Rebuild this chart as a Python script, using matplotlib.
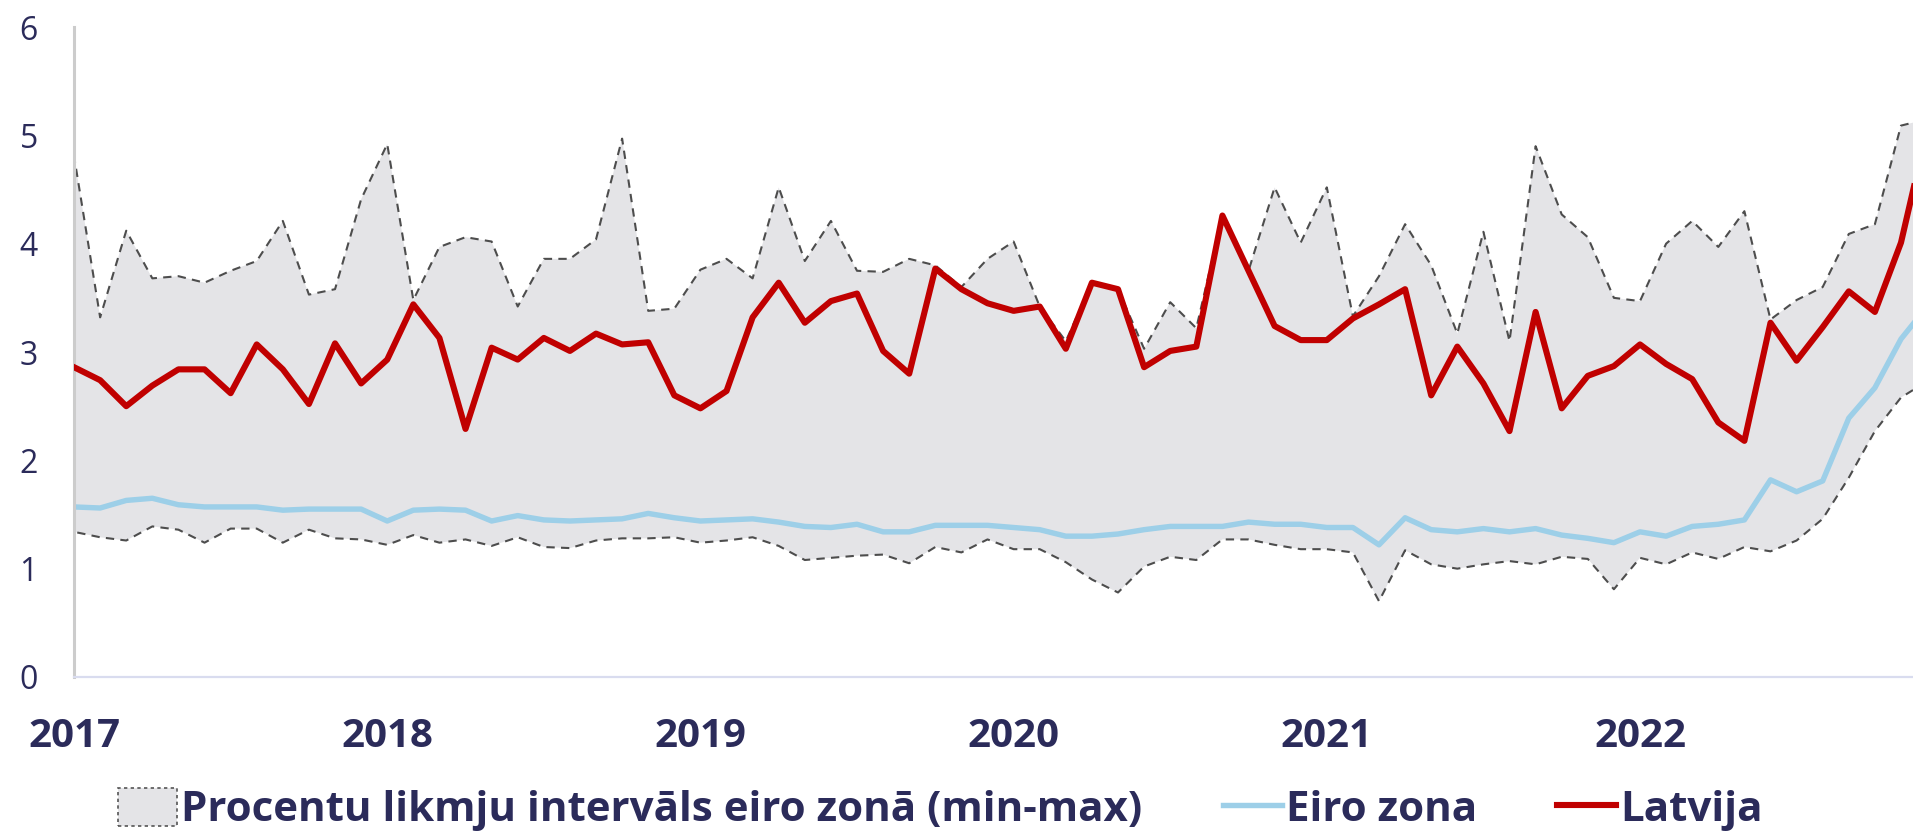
import numpy as np
import matplotlib
matplotlib.use("Agg")
import matplotlib.pyplot as plt
from matplotlib.patches import Patch
from matplotlib.lines import Line2D

plt.rcParams['font.family'] = ['Open Sans', 'DejaVu Sans']

# monthly data, Jan 2017 - Dec 2022
years = ['2017', '2018', '2019', '2020', '2021', '2022']

latvija = [2.86, 2.74, 2.50, 2.69, 2.84, 2.84, 2.62, 3.07, 2.84, 2.52, 3.08, 2.71,
           2.93, 3.44, 3.13, 2.29, 3.04, 2.93, 3.13, 3.01, 3.17, 3.07, 3.09, 2.60,
           2.48, 2.64, 3.32, 3.64, 3.27, 3.47, 3.54, 3.01, 2.80, 3.77, 3.58, 3.45,
           3.38, 3.42, 3.03, 3.64, 3.58, 2.86, 3.01, 3.05, 4.26, 3.75, 3.24, 3.11,
           3.11, 3.31, 3.44, 3.58, 2.60, 3.05, 2.71, 2.27, 3.37, 2.48, 2.78, 2.87,
           3.07, 2.89, 2.75, 2.35, 2.18, 3.27, 2.92, 3.23, 3.56, 3.37, 4.01, 5.05]

eiro_zona = [1.57, 1.56, 1.63, 1.65, 1.59, 1.57, 1.57, 1.57, 1.54, 1.55, 1.55, 1.55,
             1.44, 1.54, 1.55, 1.54, 1.44, 1.49, 1.45, 1.44, 1.45, 1.46, 1.51, 1.47,
             1.44, 1.45, 1.46, 1.43, 1.39, 1.38, 1.41, 1.34, 1.34, 1.40, 1.40, 1.40,
             1.38, 1.36, 1.30, 1.30, 1.32, 1.36, 1.39, 1.39, 1.39, 1.43, 1.41, 1.41,
             1.38, 1.38, 1.22, 1.47, 1.36, 1.34, 1.37, 1.34, 1.37, 1.31, 1.28, 1.24,
             1.34, 1.30, 1.39, 1.41, 1.45, 1.82, 1.71, 1.81, 2.39, 2.67, 3.12, 3.42]

ez_max = [4.81, 3.32, 4.12, 3.68, 3.70, 3.64, 3.75, 3.84, 4.21, 3.53, 3.58, 4.41,
          4.92, 3.48, 3.97, 4.06, 4.02, 3.42, 3.86, 3.86, 4.04, 4.97, 3.38, 3.40,
          3.76, 3.86, 3.68, 4.52, 3.84, 4.21, 3.75, 3.74, 3.86, 3.80, 3.60, 3.86,
          4.02, 3.42, 3.10, 3.64, 3.58, 3.03, 3.46, 3.22, 4.26, 3.75, 4.52, 4.01,
          4.52, 3.33, 3.70, 4.18, 3.80, 3.17, 4.11, 3.10, 4.90, 4.27, 4.06, 3.50,
          3.47, 4.00, 4.21, 3.97, 4.30, 3.30, 3.48, 3.60, 4.09, 4.18, 5.09, 5.15]

ez_min = [1.34, 1.29, 1.26, 1.39, 1.36, 1.24, 1.37, 1.37, 1.24, 1.36, 1.28, 1.27,
          1.22, 1.31, 1.24, 1.27, 1.21, 1.29, 1.20, 1.19, 1.26, 1.28, 1.28, 1.29,
          1.24, 1.26, 1.29, 1.21, 1.08, 1.10, 1.12, 1.13, 1.05, 1.20, 1.15, 1.27,
          1.18, 1.18, 1.06, 0.90, 0.78, 1.02, 1.11, 1.08, 1.27, 1.27, 1.22, 1.18,
          1.18, 1.15, 0.70, 1.17, 1.04, 1.00, 1.04, 1.07, 1.04, 1.11, 1.09, 0.81,
          1.10, 1.04, 1.15, 1.09, 1.20, 1.16, 1.26, 1.46, 1.84, 2.27, 2.58, 2.73]

navy = '#2b2b5a'
x = np.arange(len(latvija))

fig = plt.figure(figsize=(19.13, 8.32), dpi=100)
ax = fig.add_axes([0.0387, 0.1863, 0.9613, 0.7812])

band = ax.fill_between(x, ez_min, ez_max, facecolor='#e4e4e7', edgecolor='#4d4d4d',
                       linestyle=(0, (4, 3)), linewidth=1.5, zorder=1)
ax.plot(x, eiro_zona, color='#9dcfe8', linewidth=3.9, zorder=2)
ax.plot(x, latvija, color='#c00000', linewidth=4.4, zorder=3)

ax.set_xlim(0, 70.46)
ax.set_ylim(0, 6)
ax.set_yticks(range(7))
ax.set_xticks(np.arange(0, 72, 12))
ax.set_xticklabels(years, fontsize=29, fontweight='bold', color=navy)
ax.tick_params(axis='y', length=0, pad=26, labelsize=23, labelcolor=navy)
ax.tick_params(axis='x', length=0, pad=29)

for s in ['top', 'right']:
    ax.spines[s].set_visible(False)
ax.spines['left'].set_color('#cccccc')
ax.spines['left'].set_linewidth(2.2)
ax.spines['bottom'].set_color('#d9dcef')
ax.spines['bottom'].set_linewidth(1.6)

handles = [Patch(facecolor='#e4e4e7', edgecolor='#555555', linestyle=(0, (2, 2)), linewidth=1.2),
           Line2D([0], [0], color='#9dcfe8', linewidth=3.9),
           Line2D([0], [0], color='#c00000', linewidth=4.4)]
labels = ['Procentu likmju intervāls eiro zonā (min-max)', 'Eiro zona', 'Latvija']
leg = fig.legend(handles, labels, loc='center', bbox_to_anchor=(0.4916, 0.027), ncol=3,
                 frameon=False, fontsize=30.3, handlelength=1.4, handleheight=1.0,
                 handletextpad=0.1, columnspacing=1.9, borderpad=0)
for t in leg.get_texts():
    t.set_color(navy)
    t.set_fontweight('bold')

fig.savefig('out.png', dpi=100)
